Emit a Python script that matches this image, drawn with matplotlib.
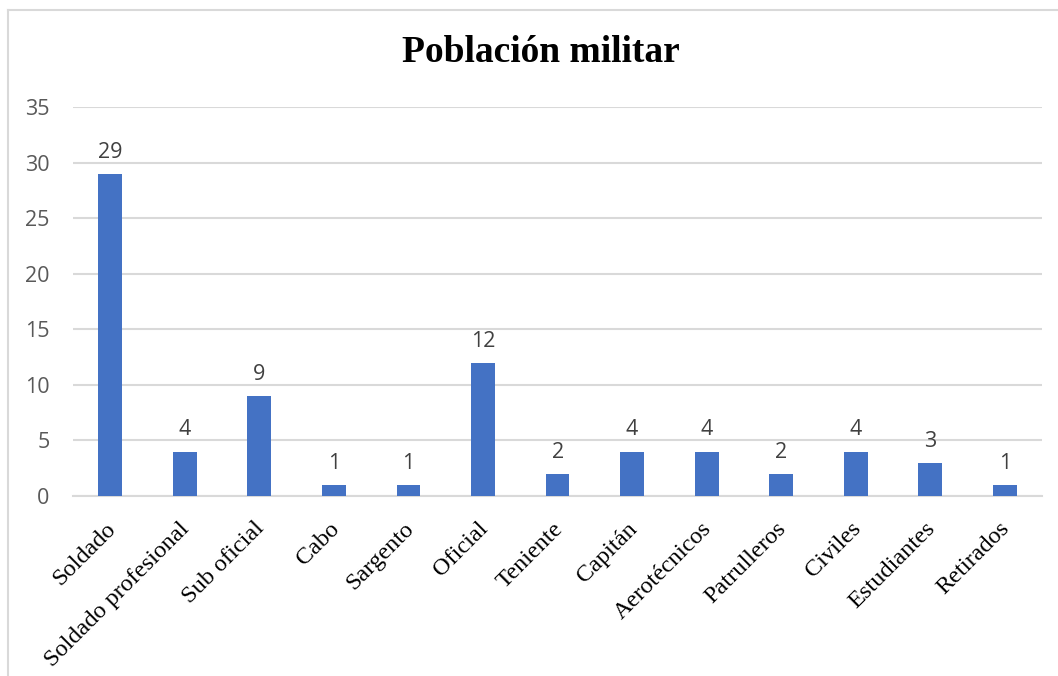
import matplotlib.pyplot as plt
import matplotlib.transforms as mtransforms
from matplotlib.lines import Line2D

# categories and counts
categories = ['Soldado', 'Soldado profesional', 'Sub oficial', 'Cabo', 'Sargento',
              'Oficial', 'Teniente', 'Capitán', 'Aerotécnicos', 'Patrulleros',
              'Civiles', 'Estudiantes', 'Retirados']
counts = [29, 4, 9, 1, 1, 12, 2, 4, 4, 2, 4, 3, 1]
yticks = [0, 5, 10, 15, 20, 25, 30, 35]

bar_color = '#4472C4'
grid_color = '#d9d9d9'

fig = plt.figure(figsize=(10.58, 6.76), dpi=100)
ax = fig.add_axes([0.069, 0.2663, 0.916, 0.5754])

x = range(len(categories))
bars = ax.bar(x, counts, width=0.32, color=bar_color, zorder=3)

# value labels above bars
for xi, v in zip(x, counts):
    ax.annotate(str(v), (xi, v), xytext=(0, 8), textcoords='offset points',
                ha='center', va='bottom', fontsize=15.5, color='#404040',
                family='Open Sans')

ax.set_ylim(0, 35)
ax.set_xlim(-0.5, len(categories) - 0.5)
ax.set_yticks(yticks)
ax.yaxis.grid(True, color=grid_color, linewidth=1.5, zorder=0)
ax.tick_params(axis='y', length=0, pad=17, labelsize=15.5, labelcolor='#595959')
for lab in ax.get_yticklabels():
    lab.set_family('Open Sans')

ax.set_xticks(list(x))
ax.set_xticklabels(categories, rotation=45, ha='right', rotation_mode='anchor',
                   fontsize=17.5, family='Liberation Serif', color='black')
ax.tick_params(axis='x', length=0, pad=16)
shift = mtransforms.ScaledTranslation(-4 / 72, 0, fig.dpi_scale_trans)
for lab in ax.get_xticklabels():
    lab.set_transform(lab.get_transform() + shift)

for side in ['top', 'right', 'left']:
    ax.spines[side].set_visible(False)
ax.spines['bottom'].set_color(grid_color)
ax.spines['bottom'].set_linewidth(1.5)

fig.text(0.511, 1 - 53 / 676, 'Población militar', ha='center', va='center',
         fontsize=27, fontweight='bold', family='Liberation Serif')

# light chart border (top and left edges visible)
bx, by = 8 / 1058, 1 - 10 / 676
fig.add_artist(Line2D([bx, 1.0], [by, by], color=grid_color, linewidth=1.5,
                      transform=fig.transFigure))
fig.add_artist(Line2D([bx, bx], [0.0, by], color=grid_color, linewidth=1.5,
                      transform=fig.transFigure))

fig.savefig('out.png', dpi=100)
